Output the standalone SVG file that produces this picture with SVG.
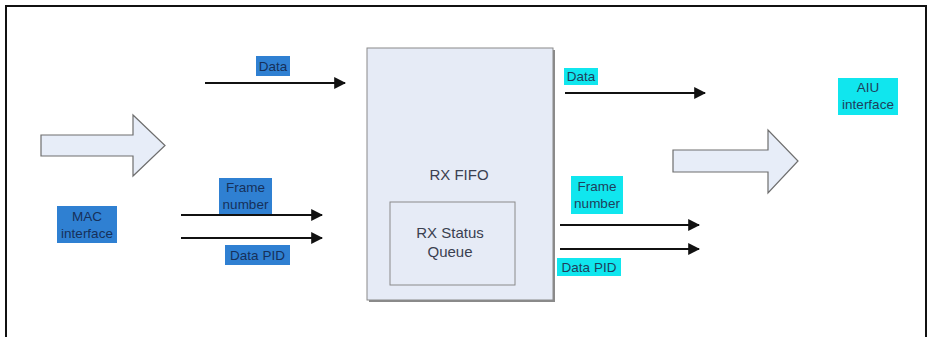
<svg xmlns="http://www.w3.org/2000/svg" width="928" height="337" viewBox="0 0 928 337">
<defs>
<style>
.lbl{font-family:"Liberation Sans",Arial,sans-serif;font-size:13.5px;text-anchor:middle}
.lb{fill:#2f80d2}
.lc{fill:#10e6ee}
.lt{fill:#16305a}
.ct{fill:#1f3f5c}
.bt{fill:#3a4050;font-family:"Liberation Sans",Arial,sans-serif;font-size:15px;text-anchor:middle}
.ln{stroke:#111;stroke-width:2;fill:none;marker-end:url(#ah)}
.big{fill:#e7edf8;stroke:#6e6e6e;stroke-width:1.2}
</style>
<marker id="ah" viewBox="0 0 10 10" refX="9" refY="5" markerWidth="6" markerHeight="6" orient="auto" markerUnits="strokeWidth">
<path d="M0,0 L10,5 L0,10 z" fill="#111"/>
</marker>
</defs>
<rect x="0" y="0" width="928" height="337" fill="#fff"/>
<path d="M6,337 V6 H926 V337" fill="none" stroke="#111" stroke-width="2"/>

<g id="connectors">
<line class="ln" x1="205" y1="83" x2="345" y2="83"/>
<line class="ln" x1="181" y1="215" x2="322" y2="215"/>
<line class="ln" x1="181" y1="238" x2="322" y2="238"/>
<line class="ln" x1="565" y1="93" x2="705" y2="93"/>
<line class="ln" x1="560" y1="225" x2="699" y2="225"/>
<line class="ln" x1="560" y1="249" x2="699" y2="249"/>
</g>

<g id="mac-arrow">
<path class="big" d="M41,135 H133 V115 L165,145.5 L133,176 V156 H41 Z"/>
</g>
<g id="aiu-arrow">
<path class="big" d="M673,150 H768 V130 L798,161 L768,193 V172 H673 Z"/>
</g>

<g id="rx-fifo">
<rect x="369" y="50" width="186" height="252" fill="#8a8a8a"/>
<rect x="367" y="48" width="186" height="252" fill="#e6ebf6" stroke="#8a8a8a" stroke-width="1"/>
<text class="bt" x="459" y="180">RX FIFO</text>
</g>
<g id="rx-status-queue">
<rect x="390" y="202" width="125" height="83" fill="#e6ebf6" stroke="#8a8a8a" stroke-width="1"/>
<text class="bt" x="450" y="238">RX Status</text>
<text class="bt" x="450" y="257">Queue</text>
</g>

<g id="lbl-data-in">
<rect class="lb" x="256" y="56" width="34" height="20"/>
<text class="lbl lt" x="273" y="71">Data</text>
</g>
<g id="lbl-frame-in">
<rect class="lb" x="219" y="178" width="53" height="36"/>
<text class="lbl lt" x="245.5" y="192">Frame</text>
<text class="lbl lt" x="245.5" y="209">number</text>
</g>
<g id="lbl-pid-in">
<rect class="lb" x="225" y="245" width="65" height="20"/>
<text class="lbl lt" x="257.5" y="260">Data PID</text>
</g>
<g id="mac-interface">
<rect class="lb" x="57" y="206" width="60" height="37"/>
<text class="lbl lt" x="87" y="221">MAC</text>
<text class="lbl lt" x="87" y="238">interface</text>
</g>

<g id="lbl-data-out">
<rect class="lc" x="564" y="68" width="34" height="17"/>
<text class="lbl ct" x="581" y="81">Data</text>
</g>
<g id="aiu-interface">
<rect class="lc" x="838" y="78" width="60" height="37"/>
<text class="lbl ct" x="868" y="92">AIU</text>
<text class="lbl ct" x="868" y="109">interface</text>
</g>
<g id="lbl-frame-out">
<rect class="lc" x="571" y="176" width="52" height="38"/>
<text class="lbl ct" x="597" y="191">Frame</text>
<text class="lbl ct" x="597" y="208">number</text>
</g>
<g id="lbl-pid-out">
<rect class="lc" x="557" y="258" width="64" height="18"/>
<text class="lbl ct" x="589" y="272">Data PID</text>
</g>
</svg>
